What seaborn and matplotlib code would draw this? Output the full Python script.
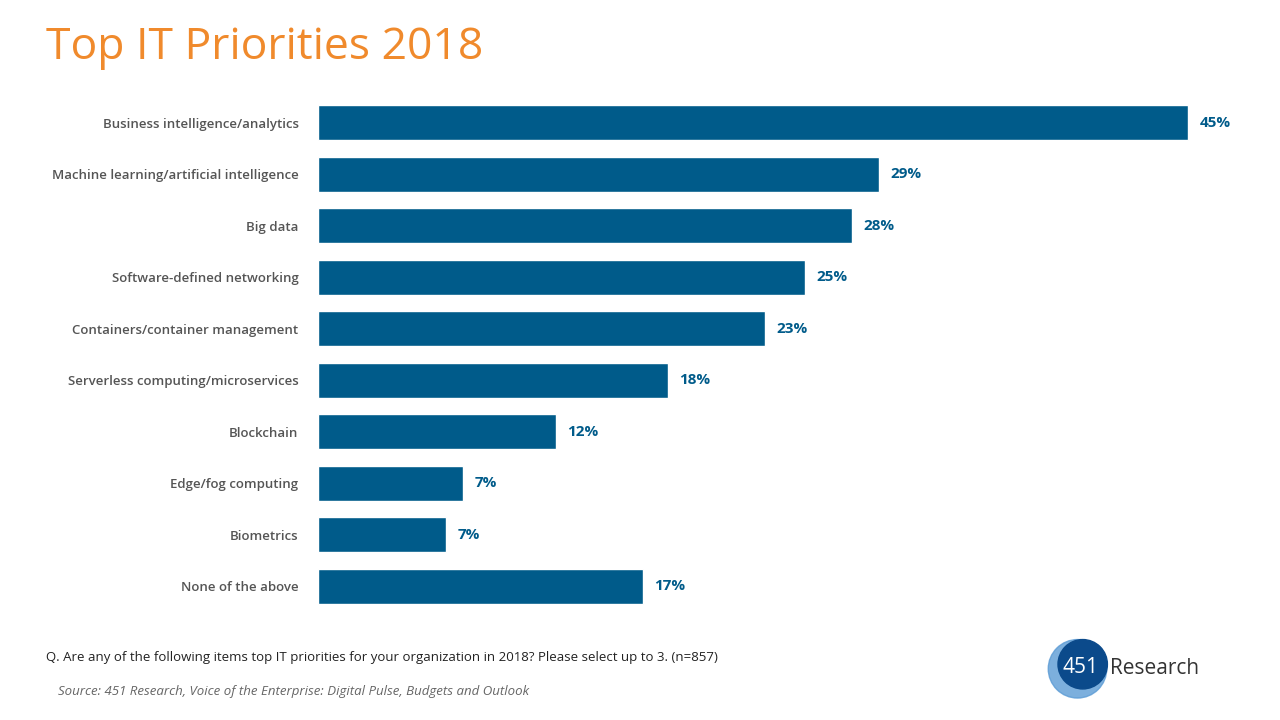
import matplotlib.pyplot as plt
import seaborn as sns
import pandas as pd
from matplotlib.patches import Circle

categories = ["Business intelligence/analytics", "Machine learning/artificial intelligence",
              "Big data", "Software-defined networking", "Containers/container management",
              "Serverless computing/microservices", "Blockchain", "Edge/fog computing",
              "Biometrics", "None of the above"]
values = [45, 29, 27.6, 25.2, 23.1, 18.1, 12.3, 7.5, 6.6, 16.8]
labels = ["45%", "29%", "28%", "25%", "23%", "18%", "12%", "7%", "7%", "17%"]

df = pd.DataFrame({"cat": categories, "val": values})

sns.set_style("white")
plt.rcParams['font.family'] = ['Open Sans', 'DejaVu Sans']
fig = plt.figure(figsize=(12.8, 7.2), dpi=100)
ax = fig.add_axes([318/1280, 1 - 612/720, 870/1280 / 45 * 50, 515/720])
blue = "#005b8a"
sns.barplot(data=df, x="val", y="cat", color=blue, saturation=1, width=0.67, ax=ax)
ax.set_xlim(0, 50)
for i, (v, t) in enumerate(zip(values, labels)):
    ax.text(v + 0.6, i, t, va="center", ha="left", fontsize=11, fontweight="bold", color=blue)
ax.set_xlabel("")
ax.set_ylabel("")
ax.set_xticks([])
ax.tick_params(axis="y", length=0, pad=14, labelsize=9.5, labelcolor="#555555")
for lbl in ax.get_yticklabels():
    lbl.set_fontweight("semibold")
sns.despine(ax=ax, left=True, bottom=True)

fig.text(46/1280, 1 - 48/720, "Top IT Priorities 2018", fontsize=32, color="#f08a2c", va="center")
fig.text(46/1280, 1 - 658/720, "Q. Are any of the following items top IT priorities for your organization in 2018? Please select up to 3. (n=857)",
         fontsize=9.5, color="#222222", va="center")
fig.text(58/1280, 1 - 692/720, "Source: 451 Research, Voice of the Enterprise: Digital Pulse, Budgets and Outlook",
         fontsize=9.5, color="#666666", style="italic", va="center")

lax = fig.add_axes([1045/1280, 1 - 700/720, 65/1280, 65/720])
lax.set_xlim(0, 1); lax.set_ylim(0, 1); lax.axis("off")
lax.add_patch(Circle((0.5, 0.48), 0.45, color="#5b9bd5", alpha=0.8))
lax.add_patch(Circle((0.58, 0.55), 0.38, color="#0b4a8b"))
lax.text(0.55, 0.5, "451", color="white", fontsize=15, ha="center", va="center")
fig.text(1110/1280, 1 - 668/720, "Research", fontsize=15, color="#333333", va="center")

fig.savefig("out.png", dpi=100)
